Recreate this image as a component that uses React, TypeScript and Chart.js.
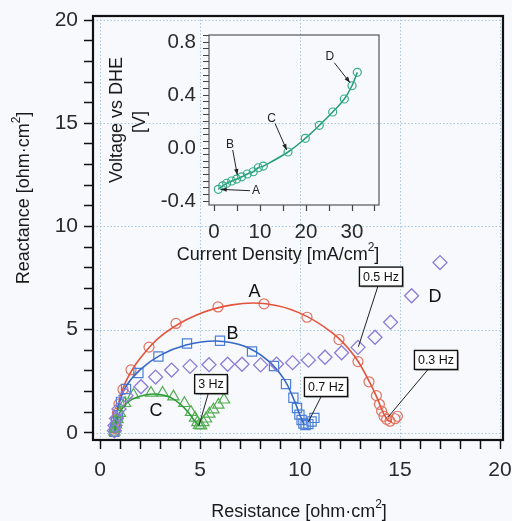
import React, { useEffect, useRef } from 'react';
import { Chart, registerables } from 'chart.js';
Chart.register(...registerables);

const FONT = "'Liberation Sans', Arial, Helvetica, sans-serif";

// ---------- Main Nyquist plot data (Resistance, Reactance) ----------
const A_RES = [0.72, 0.75, 0.78, 0.82, 0.87, 0.95, 1.15, 1.55, 2.45, 3.8, 5.9, 8.2, 10.35, 11.95, 12.9, 13.45, 13.82, 13.97, 14.08, 14.2, 14.33, 14.5, 14.75, 14.87];
const A_REACT = [0.05, 0.2, 0.4, 0.65, 0.95, 1.4, 2.1, 3.05, 4.15, 5.3, 6.1, 6.25, 5.6, 4.52, 3.45, 2.47, 1.8, 1.38, 1.05, 0.8, 0.65, 0.56, 0.68, 0.8];
const A_FIT_RES = [0.72, 0.8, 0.95, 1.3, 2.0, 3.2, 4.8, 6.6, 8.3, 10.0, 11.6, 12.7, 13.4, 13.85, 14.15, 14.4, 14.6];
const A_FIT_REACT = [0.0, 0.7, 1.5, 2.5, 3.6, 4.8, 5.7, 6.2, 6.25, 5.8, 4.85, 3.75, 2.6, 1.7, 1.0, 0.6, 0.55];

const B_RES = [0.72, 0.75, 0.8, 0.9, 1.05, 1.3, 1.92, 2.92, 4.35, 6.0, 7.6, 8.7, 9.3, 9.67, 9.85, 9.97, 10.08, 10.17, 10.28, 10.42, 10.58, 10.72];
const B_REACT = [0.05, 0.25, 0.5, 0.85, 1.5, 2.12, 2.9, 3.7, 4.33, 4.46, 3.94, 3.24, 2.36, 1.7, 1.2, 0.88, 0.62, 0.45, 0.38, 0.42, 0.55, 0.72];
const B_FIT_RES = [0.72, 0.8, 0.95, 1.3, 2.0, 3.0, 4.3, 5.8, 7.2, 8.4, 9.2, 9.7, 10.0, 10.2];
const B_FIT_REACT = [0.0, 0.7, 1.4, 2.25, 3.05, 3.75, 4.25, 4.45, 4.2, 3.5, 2.6, 1.6, 0.85, 0.4];

const C_RES = [0.72, 0.75, 0.8, 0.88, 1.0, 1.25, 1.67, 2.55, 3.13, 3.67, 4.22, 4.55, 4.75, 4.87, 4.95, 5.05, 5.17, 5.3, 5.47, 5.67, 5.92, 6.2];
const C_REACT = [0.05, 0.2, 0.4, 0.65, 0.95, 1.43, 1.83, 1.93, 1.93, 1.75, 1.43, 1.0, 0.72, 0.5, 0.37, 0.35, 0.5, 0.68, 0.92, 1.12, 1.35, 1.6];
const C_FIT_RES = [0.72, 0.8, 0.95, 1.2, 1.6, 2.2, 2.9, 3.5, 4.0, 4.45, 4.75, 4.95];
const C_FIT_REACT = [0.0, 0.45, 0.9, 1.3, 1.62, 1.82, 1.87, 1.72, 1.4, 0.95, 0.55, 0.33];

const D_RES = [0.72, 0.75, 0.82, 0.95, 1.3, 2.05, 2.78, 3.58, 4.5, 5.45, 6.38, 7.1, 8.03, 8.83, 9.63, 10.42, 11.25, 12.08, 12.9, 13.75, 14.53, 15.58, 17.0];
const D_REACT = [0.1, 0.35, 0.7, 1.15, 1.8, 2.23, 2.7, 3.04, 3.22, 3.3, 3.32, 3.32, 3.29, 3.33, 3.4, 3.52, 3.66, 3.88, 4.14, 4.63, 5.36, 6.64, 8.25];

const MAIN_TICKS = [0, 1, 2, 3, 4, 5, 6, 7, 8, 9, 10, 11, 12, 13, 14, 15, 16, 17, 18, 19, 20];
const MAIN_MAJOR = [0, 5, 10, 15, 20];

const SERIES_LETTERS = [
  { text: 'A', x: 7.72, y: 6.84 },
  { text: 'B', x: 6.63, y: 4.79 },
  { text: 'C', x: 2.8, y: 1.07 },
  { text: 'D', x: 16.75, y: 6.57 },
];
const FREQ_BOXES = [
  { text: '3 Hz', x: 5.55, y: 2.36, tx: 4.95, ty: 0.35 },
  { text: '0.7 Hz', x: 11.3, y: 2.22, tx: 10.42, ty: 0.53 },
  { text: '0.5 Hz', x: 14.05, y: 7.57, tx: 12.92, ty: 4.17 },
  { text: '0.3 Hz', x: 16.8, y: 3.53, tx: 14.42, ty: 0.78 },
];

// ---------- Inset polarization curve ----------
const INSET_J = [0.93, 1.89, 2.76, 3.85, 4.93, 6.02, 7.24, 8.54, 9.63, 10.72, 16.09, 19.85, 22.89, 25.8, 28.33, 30.0, 31.15];
const INSET_V = [-0.312, -0.285, -0.266, -0.249, -0.234, -0.217, -0.196, -0.179, -0.149, -0.136, -0.03, 0.073, 0.171, 0.272, 0.37, 0.47, 0.571];
const INSET_X_TICKS = [0, 5, 10, 15, 20, 25, 30, 35];
const INSET_X_MAJOR = [0, 10, 20, 30];
const INSET_Y_TICKS = [-0.4, -0.35, -0.3, -0.25, -0.2, -0.15, -0.1, -0.05, 0, 0.05, 0.1, 0.15, 0.2, 0.25, 0.3, 0.35, 0.4, 0.45, 0.5, 0.55, 0.6, 0.65, 0.7, 0.75, 0.8, 0.85];
const INSET_Y_MAJOR = [-0.4, 0, 0.4, 0.8];
const INSET_ARROWS = [
  { text: 'A', x: 9.13, y: -0.325, fx: 7.83, fy: -0.322, tx: 1.46, ty: -0.312 },
  { text: 'B', x: 3.48, y: 0.023, fx: 4.07, fy: -0.015, tx: 5.07, ty: -0.204 },
  { text: 'C', x: 12.54, y: 0.219, fx: 13.26, fy: 0.186, tx: 15.8, ty: -0.015 },
  { text: 'D', x: 25.2, y: 0.687, fx: 26.15, fy: 0.644, tx: 29.57, ty: 0.493 },
];

const pts = (xs: number[], ys: number[]) => xs.map((v, i) => ({ x: v, y: ys[i] }));
const near = (a: number, list: number[]) => list.some((m) => Math.abs(m - a) < 1e-6);

function drawRich(ctx: CanvasRenderingContext2D, parts: { t: string; sup?: boolean }[], x: number, y: number, size: number) {
  const big = `${size}px ${FONT}`;
  const small = `${Math.round(size * 0.68)}px ${FONT}`;
  const widths = parts.map((p) => {
    ctx.font = p.sup ? small : big;
    return ctx.measureText(p.t).width;
  });
  const total = widths.reduce((a, b) => a + b, 0);
  let cx = x - total / 2;
  ctx.textAlign = 'left';
  ctx.textBaseline = 'alphabetic';
  parts.forEach((p, i) => {
    ctx.font = p.sup ? small : big;
    ctx.fillText(p.t, cx, p.sup ? y - size * 0.5 : y);
    cx += widths[i];
  });
}

export default function App() {
  const mainRef = useRef<HTMLCanvasElement>(null);
  const insetRef = useRef<HTMLCanvasElement>(null);

  useEffect(() => {
    const bgPlugin = {
      id: 'bg',
      beforeDraw(chart: any) {
        const { ctx, width, height } = chart;
        ctx.save();
        ctx.fillStyle = '#f8f9fc';
        ctx.fillRect(0, 0, width, height);
        ctx.restore();
      },
    };
    const gridPlugin = {
      id: 'dotgrid',
      beforeDatasetsDraw(chart: any) {
        const { ctx, chartArea: a, scales } = chart;
        ctx.save();
        ctx.strokeStyle = '#a9c6dd';
        ctx.lineWidth = 1;
        ctx.setLineDash([1.5, 2]);
        MAIN_MAJOR.forEach((v) => {
          const px = Math.round(scales.x.getPixelForValue(v)) + 0.5;
          ctx.beginPath();
          ctx.moveTo(px, a.top);
          ctx.lineTo(px, a.bottom);
          ctx.stroke();
          const py = Math.round(scales.y.getPixelForValue(v)) + 0.5;
          ctx.beginPath();
          ctx.moveTo(a.left, py);
          ctx.lineTo(a.right, py);
          ctx.stroke();
        });
        ctx.restore();
      },
    };
    const mainAnno = {
      id: 'mainAnno',
      afterDatasetsDraw(chart: any) {
        const { ctx, chartArea: a, scales } = chart;
        const X = (v: number) => scales.x.getPixelForValue(v);
        const Y = (v: number) => scales.y.getPixelForValue(v);
        ctx.save();
        // frame
        ctx.strokeStyle = '#111';
        ctx.lineWidth = 2.2;
        ctx.strokeRect(a.left, a.top, a.right - a.left, a.bottom - a.top);
        // series letters
        ctx.fillStyle = '#111';
        ctx.font = `18px ${FONT}`;
        ctx.textAlign = 'center';
        ctx.textBaseline = 'middle';
        SERIES_LETTERS.forEach((l) => ctx.fillText(l.text, X(l.x), Y(l.y)));
        // frequency boxes
        FREQ_BOXES.forEach((b) => {
          const cx = X(b.x);
          const cy = Y(b.y);
          ctx.strokeStyle = '#222';
          ctx.lineWidth = 1;
          ctx.beginPath();
          ctx.moveTo(cx, cy);
          ctx.lineTo(X(b.tx), Y(b.ty));
          ctx.stroke();
          ctx.font = `12.5px ${FONT}`;
          const w = ctx.measureText(b.text).width + 7;
          const h = 19;
          ctx.fillStyle = 'rgba(0,0,0,0.25)';
          ctx.fillRect(cx - w / 2 + 1.5, cy - h / 2 + 1.5, w, h);
          ctx.fillStyle = '#ffffff';
          ctx.fillRect(cx - w / 2, cy - h / 2, w, h);
          ctx.strokeStyle = '#111';
          ctx.lineWidth = 1.4;
          ctx.strokeRect(cx - w / 2, cy - h / 2, w, h);
          ctx.fillStyle = '#111';
          ctx.textAlign = 'center';
          ctx.textBaseline = 'middle';
          ctx.fillText(b.text, cx, cy + 0.5);
        });
        // axis titles
        ctx.fillStyle = '#1a1a1a';
        drawRich(ctx, [{ t: 'Resistance [ohm·cm' }, { t: '2', sup: true }, { t: ']' }], 299, 517, 18);
        ctx.save();
        ctx.translate(29, 198);
        ctx.rotate(-Math.PI / 2);
        drawRich(ctx, [{ t: 'Reactance [ohm·cm' }, { t: '2', sup: true }, { t: ']' }], 0, 0, 18);
        ctx.restore();
        ctx.restore();
      },
    };

    const tickFont = { family: FONT, size: 21 };
    const mainChart = new Chart(mainRef.current!, {
      type: 'scatter',
      data: {
        datasets: [
          { data: pts(D_RES, D_REACT), showLine: false, pointStyle: 'rectRot', pointRadius: 7, borderColor: '#8c7bd8', pointBorderColor: '#8c7bd8', pointBackgroundColor: 'rgba(0,0,0,0)', pointBorderWidth: 1.3 },
          { data: pts(C_FIT_RES, C_FIT_REACT), showLine: true, tension: 0.4, pointRadius: 0, borderColor: '#2f9c3a', borderWidth: 1.6 },
          { data: pts(C_RES, C_REACT), showLine: false, pointStyle: 'triangle', pointRadius: 6.5, pointBorderColor: '#52ae52', pointBackgroundColor: 'rgba(0,0,0,0)', pointBorderWidth: 1.2 },
          { data: pts(B_FIT_RES, B_FIT_REACT), showLine: true, tension: 0.4, pointRadius: 0, borderColor: '#3568c6', borderWidth: 1.6 },
          { data: pts(B_RES, B_REACT), showLine: false, pointStyle: 'rect', pointRadius: 6.5, pointBorderColor: '#4d80d8', pointBackgroundColor: 'rgba(0,0,0,0)', pointBorderWidth: 1.2 },
          { data: pts(A_FIT_RES, A_FIT_REACT), showLine: true, tension: 0.4, pointRadius: 0, borderColor: '#e4523b', borderWidth: 1.6 },
          { data: pts(A_RES, A_REACT), showLine: false, pointStyle: 'circle', pointRadius: 5, pointBorderColor: '#e0725f', pointBackgroundColor: 'rgba(0,0,0,0)', pointBorderWidth: 1.2 },
        ],
      },
      options: {
        animation: false,
        responsive: false,
        devicePixelRatio: 1,
        layout: { autoPadding: false, padding: { top: 16, right: 9, left: 0, bottom: 0 } },
        plugins: { legend: { display: false }, tooltip: { enabled: false } },
        scales: {
          x: {
            type: 'linear',
            min: -0.35,
            max: 20.15,
            afterBuildTicks: (s: any) => { s.ticks = MAIN_TICKS.map((v) => ({ value: v })); },
            afterFit: (s: any) => { s.height = 81; s.paddingLeft = 0; s.paddingRight = 0; },
            border: { display: false },
            grid: { drawOnChartArea: false, drawTicks: true, tickLength: 9, tickColor: '#111', tickWidth: 1.5, color: '#111' },
            ticks: { autoSkip: false, maxRotation: 0, padding: 9, color: '#2a2a2a', font: tickFont, callback: (v: any) => (near(v, MAIN_MAJOR) ? String(v) : '') },
          },
          y: {
            type: 'linear',
            min: -0.35,
            max: 20.2,
            afterBuildTicks: (s: any) => { s.ticks = MAIN_TICKS.map((v) => ({ value: v })); },
            afterFit: (s: any) => { s.width = 93; s.paddingTop = 0; s.paddingBottom = 0; },
            border: { display: false },
            grid: { drawOnChartArea: false, drawTicks: true, tickLength: 9, tickColor: '#111', tickWidth: 1.5, color: '#111' },
            ticks: { autoSkip: false, padding: 6, color: '#2a2a2a', font: tickFont, callback: (v: any) => (near(v, MAIN_MAJOR) ? String(v) : '') },
          },
        },
      },
      plugins: [bgPlugin, gridPlugin, mainAnno],
    } as any);

    const insetAnno = {
      id: 'insetAnno',
      afterDatasetsDraw(chart: any) {
        const { ctx, chartArea: a, scales } = chart;
        const X = (v: number) => scales.x.getPixelForValue(v);
        const Y = (v: number) => scales.y.getPixelForValue(v);
        ctx.save();
        ctx.strokeStyle = '#555';
        ctx.lineWidth = 1.2;
        ctx.strokeRect(a.left, a.top, a.right - a.left, a.bottom - a.top);
        INSET_ARROWS.forEach((r) => {
          const x1 = X(r.fx), y1 = Y(r.fy), x2 = X(r.tx), y2 = Y(r.ty);
          ctx.strokeStyle = '#222';
          ctx.fillStyle = '#222';
          ctx.lineWidth = 1;
          ctx.beginPath();
          ctx.moveTo(x1, y1);
          ctx.lineTo(x2, y2);
          ctx.stroke();
          const ang = Math.atan2(y2 - y1, x2 - x1);
          const L = 6, W = 2.2;
          ctx.beginPath();
          ctx.moveTo(x2, y2);
          ctx.lineTo(x2 - L * Math.cos(ang) + W * Math.sin(ang), y2 - L * Math.sin(ang) - W * Math.cos(ang));
          ctx.lineTo(x2 - L * Math.cos(ang) - W * Math.sin(ang), y2 - L * Math.sin(ang) + W * Math.cos(ang));
          ctx.closePath();
          ctx.fill();
          ctx.font = `12px ${FONT}`;
          ctx.textAlign = 'center';
          ctx.textBaseline = 'middle';
          ctx.fillText(r.text, X(r.x), Y(r.y));
        });
        ctx.fillStyle = '#1a1a1a';
        drawRich(ctx, [{ t: 'Current Density [mA/cm' }, { t: '2', sup: true }, { t: ']' }], 178, 240, 18);
        ctx.save();
        ctx.translate(22, 100);
        ctx.rotate(-Math.PI / 2);
        drawRich(ctx, [{ t: 'Voltage vs DHE' }], 0, 0, 18);
        ctx.restore();
        ctx.save();
        ctx.translate(45, 102);
        ctx.rotate(-Math.PI / 2);
        drawRich(ctx, [{ t: '[V]' }], 0, 0, 18);
        ctx.restore();
        ctx.restore();
      },
    };

    const insetTickFont = { family: FONT, size: 20.5 };
    const insetChart = new Chart(insetRef.current!, {
      type: 'scatter',
      data: {
        datasets: [
          { data: pts(INSET_J, INSET_V), showLine: true, tension: 0.4, borderColor: '#229c74', borderWidth: 1.5, pointStyle: 'circle', pointRadius: 4, pointBorderColor: '#35ad85', pointBackgroundColor: 'rgba(0,0,0,0)', pointBorderWidth: 1.2 },
        ],
      },
      options: {
        animation: false,
        responsive: false,
        devicePixelRatio: 1,
        layout: { autoPadding: false, padding: { top: 15, right: 11, left: 0, bottom: 0 } },
        plugins: { legend: { display: false }, tooltip: { enabled: false } },
        scales: {
          x: {
            type: 'linear',
            min: -1.09,
            max: 35.87,
            afterBuildTicks: (s: any) => { s.ticks = INSET_X_TICKS.map((v) => ({ value: v })); },
            afterFit: (s: any) => { s.height = 65; s.paddingLeft = 0; s.paddingRight = 0; },
            border: { display: false },
            grid: { drawOnChartArea: false, drawTicks: true, tickLength: 6, tickColor: '#444', tickWidth: 1.2, color: '#444' },
            ticks: { autoSkip: false, maxRotation: 0, padding: 9, color: '#2a2a2a', font: insetTickFont, callback: (v: any) => (near(v, INSET_X_MAJOR) ? String(v) : '') },
          },
          y: {
            type: 'linear',
            min: -0.43,
            max: 0.853,
            afterBuildTicks: (s: any) => { s.ticks = INSET_Y_TICKS.map((v) => ({ value: v })); },
            afterFit: (s: any) => { s.width = 109; s.paddingTop = 0; s.paddingBottom = 0; },
            border: { display: false },
            grid: { drawOnChartArea: false, drawTicks: true, tickLength: 6, tickColor: '#444', tickWidth: 1, color: '#444' },
            ticks: { autoSkip: false, padding: 7, color: '#2a2a2a', font: insetTickFont, callback: (v: any) => (near(v, INSET_Y_MAJOR) ? Number(v).toFixed(1) : '') },
          },
        },
      },
      plugins: [insetAnno],
    } as any);

    return () => {
      mainChart.destroy();
      insetChart.destroy();
    };
  }, []);

  return (
    <div style={{ position: 'absolute', left: 0, top: 0, width: 512, height: 521, background: '#f8f9fc' }}>
      <canvas ref={mainRef} width={512} height={521} style={{ position: 'absolute', left: 0, top: 0, width: 512, height: 521 }} />
      <canvas ref={insetRef} width={290} height={250} style={{ position: 'absolute', left: 100, top: 20, width: 290, height: 250 }} />
    </div>
  );
}
